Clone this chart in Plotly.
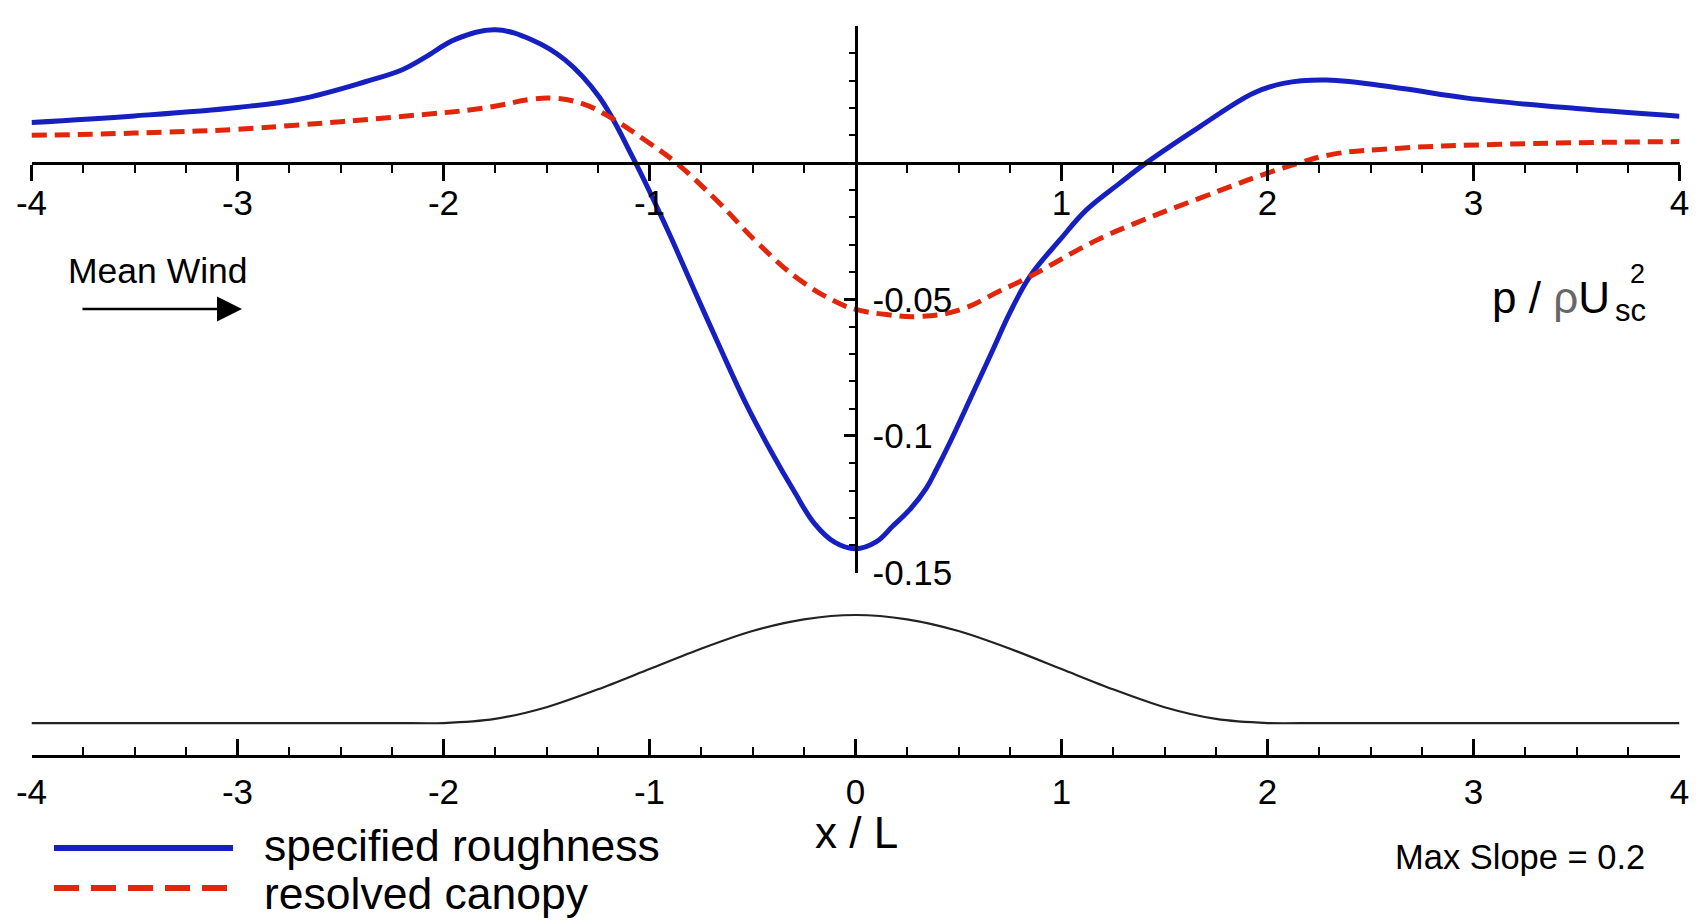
import plotly.graph_objects as go

# ---------------- data ----------------
x_rough = [-4.0, -3.5, -3.0, -2.7, -2.38, -2.2, -2.09, -1.94, -1.75, -1.57, -1.41, -1.245, -1.083,
           -0.92, -0.79, -0.66, -0.53, -0.40, -0.30, -0.20, -0.1, 0.0, 0.1, 0.18, 0.263, 0.344,
           0.392, 0.457, 0.57, 0.667, 0.749, 0.846, 0.992, 1.121, 1.283, 1.413, 1.672, 1.931,
           2.077, 2.288, 2.645, 2.969, 3.5, 4.0]
p_rough = [0.0147, 0.0171, 0.0202, 0.0232, 0.0296, 0.0340, 0.0385, 0.0452, 0.0486, 0.0449, 0.0376, 0.0241, 0.0022,
           -0.0234, -0.0454, -0.0673, -0.0885, -0.1070, -0.1200, -0.1320, -0.1390, -0.1413, -0.1388, -0.1331, -0.1270, -0.1191,
           -0.1124, -0.1026, -0.0843, -0.0685, -0.0550, -0.0417, -0.0283, -0.0173, -0.0075, 0.0, 0.0132, 0.0254,
           0.0290, 0.0302, 0.0272, 0.0236, 0.0198, 0.0170]

x_canopy = [-4.0, -3.5, -3.0, -2.7, -2.22, -1.81, -1.57, -1.47, -1.33, -1.2, -1.0, -0.872,
            -0.677, -0.467, -0.272, -0.08, 0.0, 0.15, 0.311, 0.506, 0.7, 0.846, 1.154, 1.348,
            1.672, 1.997, 2.16, 2.32, 2.645, 3.13, 3.6, 4.0]
p_canopy = [0.0100, 0.0108, 0.0122, 0.0138, 0.0168, 0.0199, 0.0232, 0.0236, 0.0217, 0.0170, 0.0071, 0.0,
            -0.0136, -0.0300, -0.0429, -0.0515, -0.0537, -0.0556, -0.0563, -0.0539, -0.0470, -0.0417, -0.0290, -0.0225,
            -0.0130, -0.0039, 0.0, 0.0031, 0.0053, 0.0067, 0.0074, 0.0077]

x_hill = [-4.0, -3.0, -2.25, -2.0, -1.75, -1.5, -1.25, -1.0, -0.75, -0.5, -0.25, 0.0,
          0.25, 0.5, 0.75, 1.0, 1.25, 1.5, 1.75, 2.0, 2.25, 3.0, 4.0]
h_hill = [0.0, 0.0, 0.0, 0.0, 0.0095, 0.0366, 0.0780, 0.125, 0.172, 0.213, 0.240, 0.250,
          0.240, 0.213, 0.172, 0.125, 0.0780, 0.0366, 0.0095, 0.0, 0.0, 0.0, 0.0]

top_tickvals = [-4, -3, -2, -1, 1, 2, 3, 4]
bot_tickvals = [-4, -3, -2, -1, 0, 1, 2, 3, 4]
y_tickvals = [0.05, -0.05, -0.1, -0.15]
y_ticktext = ["0.05", "-0.05", "-0.1", "-0.15"]

# ---------------- layout helpers ----------------
W, H = 1699, 920
OFF = 8   # page body margin offset of the figure inside the browser window
FONT = "Liberation Sans, Arial, Helvetica, sans-serif"
BLUE = "rgb(22,32,192)"
RED = "rgb(226,38,12)"

def px(X):
    return (X - OFF) / W

def py(Y):
    return 1 - (Y - OFF) / H

x_dom = [px(31.5), px(1679.5)]
y_top_px, y_bot_px = 26, 572.5          # window pixel rows of 0.05 and -0.15
y_dom = [py(y_bot_px), py(y_top_px)]
y_rng = [-0.15, 0.05]
zero_pos = y_dom[0] + (0 - y_rng[0]) / (y_rng[1] - y_rng[0]) * (y_dom[1] - y_dom[0])
yaxis_pos = x_dom[0] + 0.5 * (x_dom[1] - x_dom[0])

y2_dom = [py(755), py(593.4)]
y2_rng = [-0.074, 0.3]

fig = go.Figure()

fig.add_trace(go.Scatter(x=x_rough, y=p_rough, mode="lines",
                         line=dict(color=BLUE, width=5, shape="spline", smoothing=1.1),
                         xaxis="x", yaxis="y", name="specified roughness"))
fig.add_trace(go.Scatter(x=x_canopy, y=p_canopy, mode="lines",
                         line=dict(color=RED, width=5, dash="15px,8px", shape="spline", smoothing=1.2),
                         xaxis="x", yaxis="y", name="resolved canopy"))
fig.add_trace(go.Scatter(x=x_hill, y=h_hill, mode="lines",
                         line=dict(color="#222222", width=2.2, shape="spline", smoothing=0.8),
                         xaxis="x2", yaxis="y2", name="terrain"))

tickfont = dict(family=FONT, size=35, color="black")

fig.update_layout(
    width=W, height=H,
    margin=dict(l=0, r=0, t=0, b=0),
    paper_bgcolor="white", plot_bgcolor="white",
    showlegend=False,
    xaxis=dict(domain=x_dom, range=[-4, 4], anchor="free", position=zero_pos, side="bottom",
               showline=True, linecolor="black", linewidth=3,
               ticks="outside", ticklen=16, tickwidth=2.5, tickcolor="black",
               tickmode="array", tickvals=top_tickvals, ticktext=[str(v) for v in top_tickvals],
               tickfont=tickfont, ticklabelstandoff=-8,
               minor=dict(ticks="outside", ticklen=8, tickwidth=1.8, tickcolor="black",
                          dtick=0.25, tick0=0, showgrid=False),
               showgrid=False, zeroline=False, automargin=False, fixedrange=True),
    yaxis=dict(domain=y_dom, range=y_rng, anchor="free", position=yaxis_pos, side="right",
               showline=True, linecolor="black", linewidth=3,
               ticks="inside", ticklen=11, tickwidth=2.5, tickcolor="black",
               tickmode="array", tickvals=y_tickvals, ticktext=y_ticktext,
               tickfont=tickfont, ticklabelstandoff=8,
               minor=dict(ticks="inside", ticklen=6, tickwidth=1.8, tickcolor="black",
                          dtick=0.01, tick0=0, showgrid=False),
               showgrid=False, zeroline=False, automargin=False, fixedrange=True),
    xaxis2=dict(domain=x_dom, range=[-4, 4], anchor="y2", side="bottom",
                showline=True, linecolor="black", linewidth=2.5,
                ticks="inside", ticklen=16, tickwidth=2.5, tickcolor="black",
                tickmode="array", tickvals=bot_tickvals, ticktext=[str(v) for v in bot_tickvals],
                tickfont=tickfont, ticklabelstandoff=4,
                minor=dict(ticks="inside", ticklen=8, tickwidth=1.8, tickcolor="black",
                           dtick=0.25, tick0=0, showgrid=False),
                showgrid=False, zeroline=False, automargin=False, fixedrange=True),
    yaxis2=dict(domain=y2_dom, range=y2_rng, anchor="x2", visible=False,
                showgrid=False, zeroline=False, fixedrange=True),
)

# legend drawn by hand (long line samples as in the reference)
fig.add_shape(type="line", xref="paper", yref="paper",
              x0=px(54), x1=px(233), y0=py(848), y1=py(848),
              line=dict(color=BLUE, width=6))
fig.add_shape(type="line", xref="paper", yref="paper",
              x0=px(54), x1=px(233), y0=py(888), y1=py(888),
              line=dict(color=RED, width=6, dash="25px,12px"))

ann = []
ann.append(dict(text="specified roughness", x=px(262), y=py(845), xanchor="left", yanchor="middle",
                font=dict(family=FONT, size=44.5, color="black")))
ann.append(dict(text="resolved canopy", x=px(262), y=py(893), xanchor="left", yanchor="middle",
                font=dict(family=FONT, size=44.5, color="black")))
ann.append(dict(text="Mean Wind", x=px(158), y=py(271), xanchor="center", yanchor="middle",
                font=dict(family=FONT, size=35.5, color="black")))
ann.append(dict(text="x / L", x=px(856), y=py(832), xanchor="center", yanchor="middle",
                font=dict(family=FONT, size=44, color="black")))
ann.append(dict(text="Max Slope = 0.2", x=px(1647), y=py(857), xanchor="right", yanchor="middle",
                font=dict(family=FONT, size=34.5, color="black")))
ann.append(dict(text="p / <span style='color:#666666'>ρ</span>U", x=px(1612), y=py(297),
                xanchor="right", yanchor="middle",
                font=dict(family=FONT, size=44, color="black")))
ann.append(dict(text="sc", x=px(1613), y=py(311), xanchor="left", yanchor="middle",
                font=dict(family=FONT, size=31, color="black")))
ann.append(dict(text="2", x=px(1637), y=py(274), xanchor="center", yanchor="middle",
                font=dict(family=FONT, size=27, color="black")))
for a in ann:
    a.update(xref="paper", yref="paper", showarrow=False)

# wind arrow (head position in paper coords, tail offset in pixels)
ann.append(dict(x=px(242), y=py(309), ax=-(242 - 81), ay=0, xref="paper", yref="paper",
                axref="pixel", ayref="pixel", text="", showarrow=True,
                arrowhead=2, arrowsize=2.0, arrowwidth=2.5, arrowcolor="black"))
fig.update_layout(annotations=ann)

fig.write_html("out.html")
